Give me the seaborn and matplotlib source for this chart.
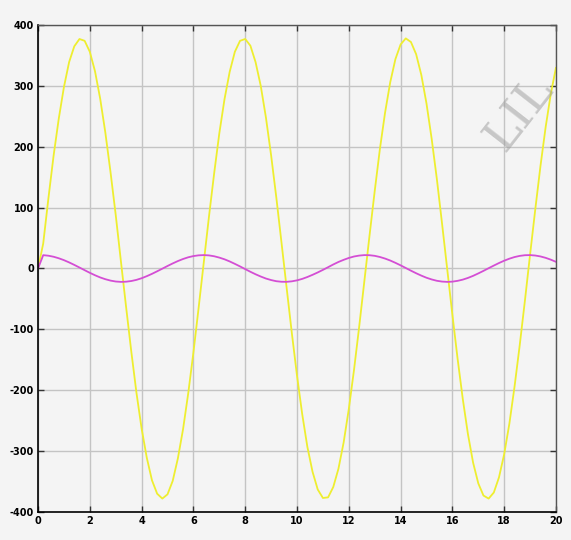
import numpy as np
import pandas as pd
import matplotlib
matplotlib.use("Agg")
import matplotlib.pyplot as plt
import seaborn as sns

# valeurs (pas de 0.2)
t = [round(0.2 * i, 1) for i in range(101)]

jaune = [0, 41, 115, 185, 246, 298, 339, 365, 377, 374,
         356, 324, 279, 223, 158, 88, 12, -63, -136, -204,
         -263, -311, -348, -370, -378, -371, -349, -312, -264, -205,
         -138, -65, 10, 85, 156, 222, 278, 323, 356, 374,
         377, 366, 339, 300, 248, 186, 117, 43, -32, -106,
         -176, -239, -293, -334, -363, -377, -376, -359, -329, -286,
         -231, -167, -96, -21, 54, 127, 196, 256, 306, 344,
         368, 378, 372, 352, 318, 271, 213, 147, 74, -1,
         -76, -148, -214, -272, -319, -353, -373, -378, -368, -343,
         -305, -255, -194, -126, -53, 23, 97, 168, 232, 287,
         330]

magenta = [0, 21.9, 21.0, 19.3, 16.8, 13.7, 10.0, 5.9, 1.6, -2.8,
           -7.1, -11.1, -14.7, -17.6, -19.9, -21.4, -22.0, -21.7, -20.6, -18.7,
           -16.0, -12.6, -8.8, -4.6, -0.3, 4.1, 8.3, 12.2, 15.6, 18.4,
           20.4, 21.6, 22.0, 21.5, 20.1, 17.9, 15.1, 11.6, 7.6, 3.4,
           -1.0, -5.4, -9.5, -13.2, -16.5, -19.0, -20.9, -21.8, -21.9, -21.1,
           -19.5, -17.1, -14.0, -10.4, -6.5, -2.3, 2.1, 6.6, 10.7, 14.2,
           17.3, 19.7, 21.2, 22.0, 21.8, 20.8, 18.9, 16.3, 13.1, 9.3,
           5.2, 0.8, -3.6, -7.8, -11.7, -15.2, -18.0, -20.2, -21.5, -22.0,
           -21.6, -20.3, -18.3, -15.5, -12.1, -8.1, -3.9, 0.5, 4.8, 9.0,
           12.8, 16.1, 18.8, 20.7, 21.8, 22.0, 21.3, 19.8, 17.5, 14.5,
           10.9]

xticks = [0, 2, 4, 6, 8, 10, 12, 14, 16, 18, 20]
yticks = [-400, -300, -200, -100, 0, 100, 200, 300, 400]

df = pd.DataFrame({"t": t, "jaune": jaune, "magenta": magenta})

sns.set_style("ticks")
plt.rcParams["axes.unicode_minus"] = False
fond = "#f4f4f4"

fig = plt.figure(figsize=(5.71, 5.40), dpi=100, facecolor=fond)
ax = fig.add_axes([0.0666, 0.0519, 0.9071, 0.9018])
ax.set_facecolor(fond)

sns.lineplot(data=df, x="t", y="jaune", ax=ax, color="#eeee30", lw=1.3)
sns.lineplot(data=df, x="t", y="magenta", ax=ax, color="#d44ed4", lw=1.3)

ax.set_xlim(0, 20)
ax.set_ylim(-400, 400)
ax.set_xticks(xticks)
ax.set_yticks(yticks)
ax.set_xlabel("")
ax.set_ylabel("")
ax.grid(True, color="#c4c4c4", lw=1.0)
ax.set_axisbelow(True)

ax.tick_params(direction="in", length=4, width=1, top=True, right=True,
               labelsize=7, colors="#333333", labelcolor="black", pad=3)
for lab in ax.get_xticklabels() + ax.get_yticklabels():
    lab.set_fontweight("bold")

for s in ["left", "bottom"]:
    ax.spines[s].set_color("black")
    ax.spines[s].set_linewidth(1.2)
for s in ["top", "right"]:
    ax.spines[s].set_visible(True)
    ax.spines[s].set_color("#555555")
    ax.spines[s].set_linewidth(1.0)

# filigrane en haut a droite
fig.text(0.91, 0.79, "LIL", rotation=52, fontsize=34, family="DejaVu Serif",
         color="#9a9a9a", alpha=0.5, ha="center", va="center")

plt.savefig("out.png", dpi=100, facecolor=fond)
plt.close()
